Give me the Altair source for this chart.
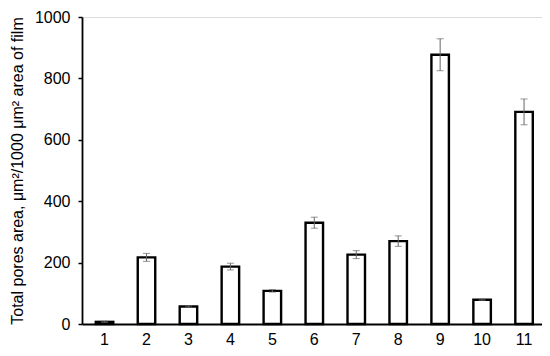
import altair as alt
import pandas as pd

samples = ["1", "2", "3", "4", "5", "6", "7", "8", "9", "10", "11"]
values = [7, 217, 57, 187, 108, 330, 226, 270, 877, 79, 691]
errors = [2, 13, 2, 11, 4, 18, 13, 17, 52, 2, 42]

df = pd.DataFrame({"sample": samples, "value": values, "err": errors})
df["lo"] = df["value"] - df["err"]
df["hi"] = df["value"] + df["err"]

font = "Liberation Sans"
x = alt.X("sample:N", sort=samples, title=None,
          scale=alt.Scale(paddingInner=0.583, paddingOuter=0.274, align=0.6),
          axis=alt.Axis(labelAngle=0, ticks=False, labelPadding=7, labelFontSize=16,
                        labelFont=font, labelColor="#000", domainColor="#000", domainWidth=1.8))
y = alt.Y("value:Q", title="Total pores area, μm²/1000 μm² area of film",
          scale=alt.Scale(domain=[0, 1000], nice=False),
          axis=alt.Axis(values=[0, 200, 400, 600, 800, 1000], format="d", grid=False, tickSize=4,
                        tickColor="#000", tickWidth=1.5, domainColor="#000", domainWidth=1.8,
                        labelFontSize=16, labelFont=font, labelColor="#000", labelPadding=8,
                        titleFont=font, titleFontSize=16, titleFontWeight="normal",
                        titleColor="#000", titlePadding=9))

bars = alt.Chart(df).mark_bar(fill="white", stroke="black", strokeWidth=2.4).encode(x=x, y=y)
rules = alt.Chart(df).mark_rule(color="#666", strokeWidth=1).encode(
    x=alt.X("sample:N", sort=samples), y="lo:Q", y2="hi:Q")
caps_hi = alt.Chart(df).mark_tick(color="#666", thickness=1, size=7).encode(
    x=alt.X("sample:N", sort=samples), y="hi:Q")
caps_lo = alt.Chart(df).mark_tick(color="#666", thickness=1, size=7).encode(
    x=alt.X("sample:N", sort=samples), y="lo:Q")

chart = alt.layer(bars, rules, caps_hi, caps_lo).properties(
    width=460, height=307,
    autosize=alt.AutoSizeParams(type="none"),
    padding={"left": 74, "top": 9, "right": 0, "bottom": 24},
).configure_view(stroke=None).configure(background="white")

chart.save("out.html", embed_options={"renderer": "svg", "actions": False})
